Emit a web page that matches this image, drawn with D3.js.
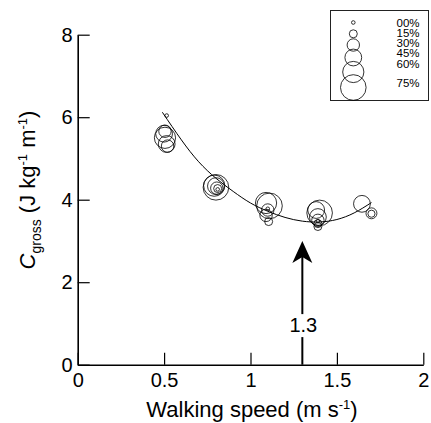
<!DOCTYPE html>
<html>
<head>
<meta charset="utf-8">
<script src="https://cdn.jsdelivr.net/npm/d3@7/dist/d3.min.js"></script>
<style>
  body { margin: 0; background: #fff; }
  svg { display: block; font-family: "Liberation Sans", Arial, sans-serif; }
</style>
</head>
<body>
<svg id="chart"></svg>
<script>
// walking speed (m/s) of each trial
var speed  = [0.515, 0.505, 0.50, 0.505, 0.515, 0.52,
              0.80, 0.79, 0.80, 0.805, 0.81, 0.81,
              1.09, 1.11, 1.10, 1.10, 1.09, 1.105,
              1.40, 1.38, 1.39, 1.39, 1.39, 1.39, 1.39,
              1.645, 1.70, 1.70];
// gross cost of transport (J/kg/m)
var cgross = [6.04, 5.66, 5.60, 5.50, 5.35, 5.30,
              4.30, 4.34, 4.33, 4.28, 4.27, 4.25,
              3.92, 3.85, 3.75, 3.78, 3.62, 3.47,
              3.68, 3.75, 3.58, 3.50, 3.42, 3.35, 3.48,
              3.90, 3.67, 3.66];
// percentage shown by circle size
var load   = [0, 30, 45, 60, 45, 30,
              75, 60, 45, 30, 15, 0,
              60, 75, 30, 0, 30, 15,
              75, 45, 45, 30, 15, 15, 0,
              45, 25, 12];

// fitted curve
var fitX = [0.49, 0.6, 0.7, 0.8, 0.9, 1.0, 1.1, 1.2, 1.3, 1.4, 1.5, 1.6, 1.7];
var fitY = [6.12, 5.45, 4.92, 4.52, 4.20, 3.92, 3.72, 3.57, 3.48, 3.46, 3.52, 3.68, 3.93];

var optimum = 1.3;
var xTicks = [0, 0.5, 1, 1.5, 2];
var yTicks = [0, 2, 4, 6, 8];
var legendLoads  = [0, 15, 30, 45, 60, 75];
var legendLabels = ["00%", "15%", "30%", "45%", "60%", "75%"];

var W = 431, H = 423;
var svg = d3.select("#chart").attr("width", W).attr("height", H);

var x = d3.scaleLinear().domain([0, 2]).range([77.7, 423.3]);
var y = d3.scaleLinear().domain([0, 8]).range([364.7, 34.7]);
var r = d3.scaleLinear().domain([0, 75]).range([1.8, 12.8]);

// axes
var xAxis = svg.append("g")
    .attr("transform", "translate(0," + y(0) + ")")
    .call(d3.axisBottom(x).tickValues(xTicks).tickSize(-12).tickSizeOuter(0).tickPadding(8)
        .tickFormat(function(d){ return String(d); }));
var yAxis = svg.append("g")
    .attr("transform", "translate(" + x(0) + ",0)")
    .call(d3.axisLeft(y).tickValues(yTicks).tickSize(-12).tickSizeOuter(0).tickPadding(5)
        .tickFormat(function(d){ return String(d); }));

[xAxis, yAxis].forEach(function(g){
    g.select(".domain").attr("stroke", "#000").attr("stroke-width", 1.6);
    g.selectAll(".tick line").attr("stroke", "#000").attr("stroke-width", 1.2);
    g.selectAll(".tick text").attr("fill", "#000").style("font-size", "20px")
        .style("font-family", "'Liberation Sans', Arial, sans-serif");
});

// axis titles
var xt = svg.append("text")
    .attr("x", 252).attr("y", 417)
    .attr("text-anchor", "middle")
    .attr("fill", "#000")
    .style("font-size", "22px");
xt.append("tspan").text("Walking speed (m s");
xt.append("tspan").attr("dy", -8).style("font-size", "13px").text("-1");
xt.append("tspan").attr("dy", 8).text(")");

var yt = svg.append("text")
    .attr("transform", "translate(35,190) rotate(-90)")
    .attr("text-anchor", "middle")
    .attr("fill", "#000")
    .style("font-size", "22px");
yt.append("tspan").style("font-style", "italic").text("C");
yt.append("tspan").attr("dy", 6).style("font-size", "14px").text("gross");
yt.append("tspan").attr("dy", -6).text(" (J kg");
yt.append("tspan").attr("dy", -8).style("font-size", "13px").text("-1");
yt.append("tspan").attr("dy", 8).text(" m");
yt.append("tspan").attr("dy", -8).style("font-size", "13px").text("-1");
yt.append("tspan").attr("dy", 8).text(")");

// fitted curve
var line = d3.line()
    .x(function(d, i){ return x(fitX[i]); })
    .y(function(d, i){ return y(fitY[i]); })
    .curve(d3.curveNatural);
svg.append("path")
    .attr("d", line(fitX))
    .attr("fill", "none")
    .attr("stroke", "#000")
    .attr("stroke-width", 1);

// data circles
svg.append("g").selectAll("circle")
    .data(speed)
    .enter().append("circle")
    .attr("cx", function(d){ return x(d); })
    .attr("cy", function(d, i){ return y(cgross[i]); })
    .attr("r", function(d, i){ return r(load[i]); })
    .attr("fill", "none")
    .attr("stroke", "#000")
    .attr("stroke-width", 0.8);

// optimum arrow
var ax = x(optimum), tipY = y(3.0);
svg.append("line")
    .attr("x1", ax).attr("x2", ax)
    .attr("y1", y(0)).attr("y2", tipY + 16)
    .attr("stroke", "#000").attr("stroke-width", 2);
svg.append("path")
    .attr("d", "M" + ax + "," + tipY +
        " L" + (ax + 10) + "," + (tipY + 22) +
        " L" + ax + "," + (tipY + 16) +
        " L" + (ax - 10) + "," + (tipY + 22) + " Z")
    .attr("fill", "#000");
svg.append("rect")
    .attr("x", ax - 16).attr("y", y(0.96) - 11)
    .attr("width", 32).attr("height", 23)
    .attr("fill", "#fff");
svg.append("text")
    .attr("x", ax + 1).attr("y", y(0.96) + 7)
    .attr("text-anchor", "middle")
    .attr("fill", "#000")
    .style("font-size", "20px")
    .text(String(optimum));

// legend
var lg = svg.append("g");
lg.append("rect")
    .attr("x", 330.5).attr("y", 10.5)
    .attr("width", 98).attr("height", 90)
    .attr("fill", "#fff").attr("stroke", "#222").attr("stroke-width", 1);
var circY = [22.5, 33.8, 45, 57.5, 72, 87.5];
var textY = [22.5, 32.8, 43.1, 53.4, 63.7, 83];
lg.selectAll("circle")
    .data(legendLoads)
    .enter().append("circle")
    .attr("cx", 353.3)
    .attr("cy", function(d, i){ return circY[i]; })
    .attr("r", function(d){ return r(d); })
    .attr("fill", "none").attr("stroke", "#000").attr("stroke-width", 0.8);
lg.selectAll("text")
    .data(legendLabels)
    .enter().append("text")
    .attr("x", 396.5)
    .attr("y", function(d, i){ return textY[i] + 4; })
    .attr("fill", "#000")
    .style("font-size", "11.5px")
    .text(function(d){ return d; });
</script>
</body>
</html>
